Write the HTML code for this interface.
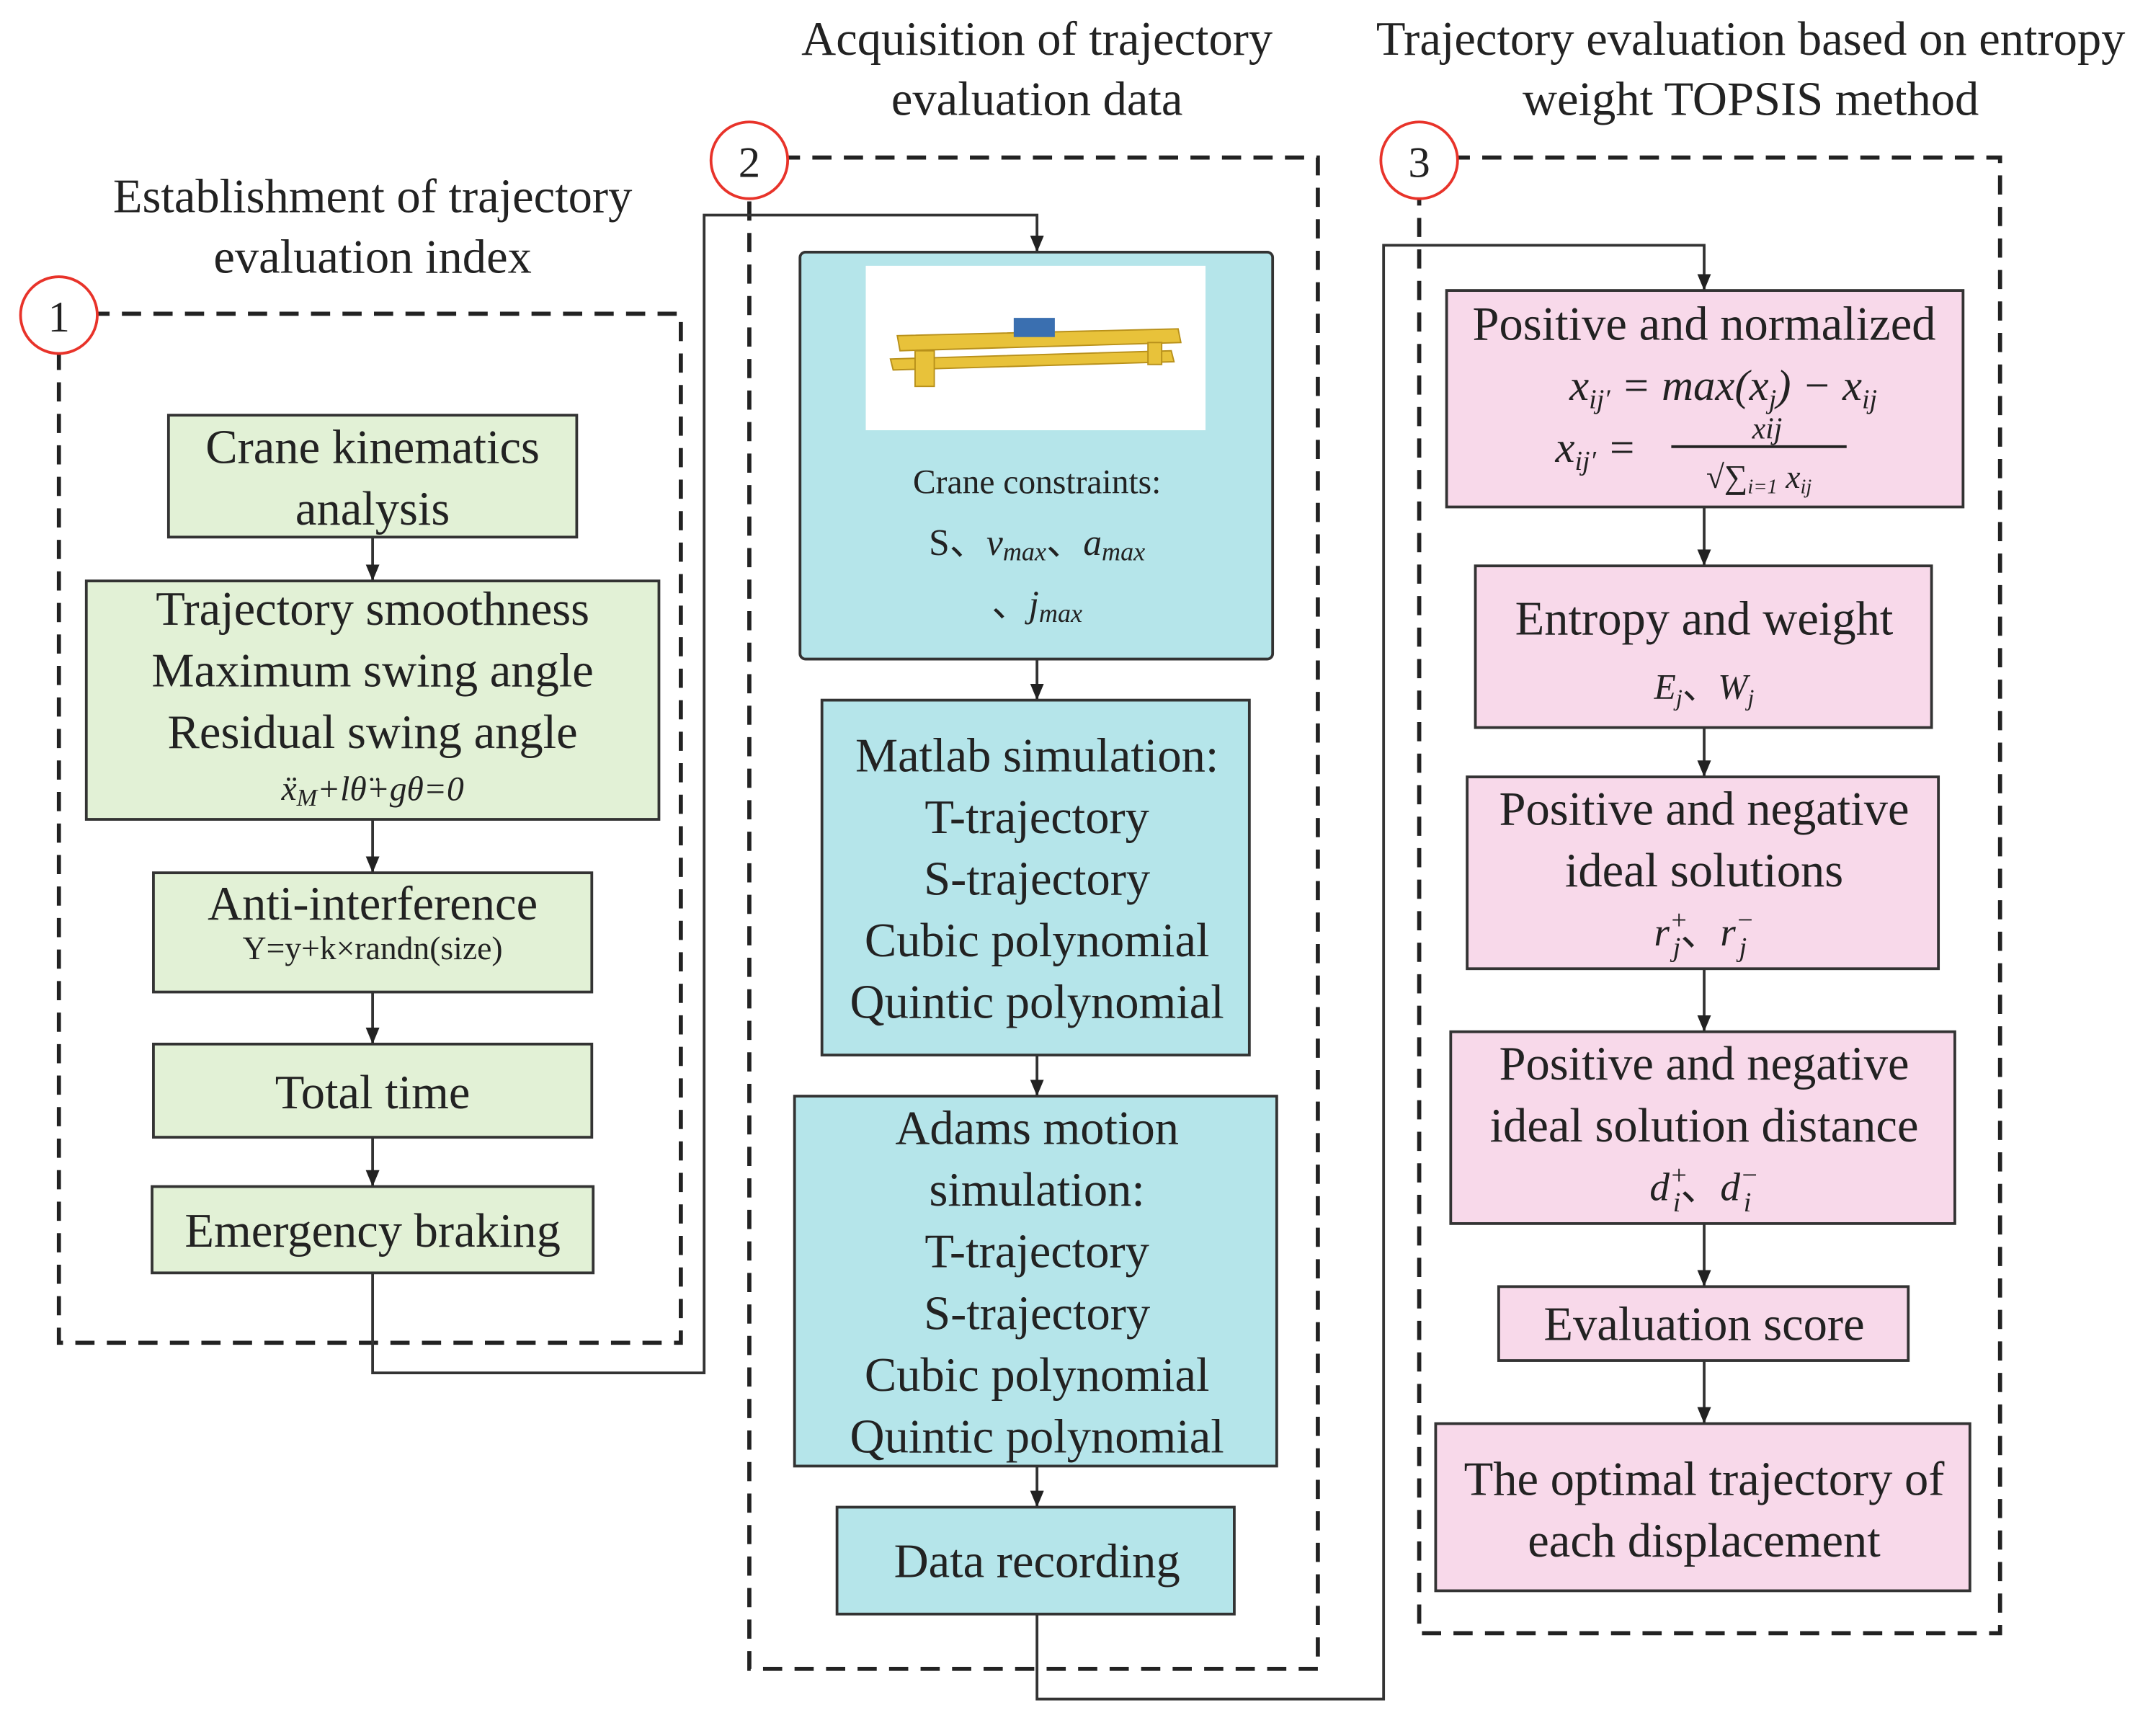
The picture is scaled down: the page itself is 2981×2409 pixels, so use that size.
<!DOCTYPE html>
<html><head><meta charset="utf-8"><style>html,body{margin:0;padding:0;background:#fff}svg{display:block}</style></head><body>
<svg width="2981" height="2409" viewBox="0 0 1568 1267" preserveAspectRatio="none" xmlns="http://www.w3.org/2000/svg" font-family="Liberation Serif, serif" fill="#222">
<defs><marker id="a" markerWidth="12" markerHeight="10" refX="12" refY="5" orient="auto" markerUnits="userSpaceOnUse"><path d="M0,0 L12,5 L0,10 z" fill="#222"/></marker></defs>
<g font-size="35" text-anchor="middle">
<text x="272" y="155">Establishment of trajectory</text><text x="272" y="199">evaluation index</text>
<text x="757" y="40">Acquisition of trajectory</text><text x="757" y="84">evaluation data</text>
<text x="1278" y="40">Trajectory evaluation based on entropy</text><text x="1278" y="84">weight TOPSIS method</text>
</g>
<g fill="none" stroke="#222" stroke-width="3" stroke-dasharray="14,9">
<rect x="43" y="229" width="454" height="751"/><rect x="547" y="115" width="415" height="1103"/><rect x="1036" y="115" width="424" height="1077"/>
</g>
<g fill="#fff" stroke="#e8332a" stroke-width="2"><circle cx="43" cy="230" r="28"/><circle cx="547" cy="117" r="28"/><circle cx="1036" cy="117" r="28"/></g>
<g font-size="32" text-anchor="middle"><text x="43" y="242">1</text><text x="547" y="129">2</text><text x="1036" y="129">3</text></g>
<g stroke="#333" stroke-width="2" fill="none">
<polyline points="272,929 272,1002 514,1002 514,157 757,157 757,184" marker-end="url(#a)"/>
<polyline points="757,1178 757,1240 1010,1240 1010,179 1244,179 1244,212" marker-end="url(#a)"/>
<line x1="272" y1="392" x2="272" y2="424" marker-end="url(#a)"/><line x1="272" y1="598" x2="272" y2="637" marker-end="url(#a)"/>
<line x1="272" y1="724" x2="272" y2="762" marker-end="url(#a)"/><line x1="272" y1="830" x2="272" y2="866" marker-end="url(#a)"/>
<line x1="757" y1="481" x2="757" y2="511" marker-end="url(#a)"/><line x1="757" y1="770" x2="757" y2="800" marker-end="url(#a)"/>
<line x1="757" y1="1070" x2="757" y2="1100" marker-end="url(#a)"/>
<line x1="1244" y1="370" x2="1244" y2="413" marker-end="url(#a)"/><line x1="1244" y1="531" x2="1244" y2="567" marker-end="url(#a)"/>
<line x1="1244" y1="707" x2="1244" y2="753" marker-end="url(#a)"/><line x1="1244" y1="893" x2="1244" y2="939" marker-end="url(#a)"/>
<line x1="1244" y1="993" x2="1244" y2="1039" marker-end="url(#a)"/>
</g>
<g stroke="#333" stroke-width="2" fill="#e2f1d6">
<rect x="123" y="303" width="298" height="89"/><rect x="63" y="424" width="418" height="174"/><rect x="112" y="637" width="320" height="87"/><rect x="112" y="762" width="320" height="68"/><rect x="111" y="866" width="322" height="63"/>
</g>
<g stroke="#333" stroke-width="2" fill="#b5e5ea">
<rect x="584" y="184" width="345" height="297" rx="4"/><rect x="600" y="511" width="312" height="259"/><rect x="580" y="800" width="352" height="270"/><rect x="611" y="1100" width="290" height="78"/>
</g>
<g stroke="#333" stroke-width="2" fill="#f8d9ea">
<rect x="1056" y="212" width="377" height="158"/><rect x="1077" y="413" width="333" height="118"/><rect x="1071" y="567" width="344" height="140"/><rect x="1059" y="753" width="368" height="140"/><rect x="1094" y="939" width="299" height="54"/><rect x="1048" y="1039" width="390" height="122"/>
</g>
<rect x="632" y="194" width="248" height="120" fill="#fff"/>
<g fill="#e8c23a" stroke="#b8901a" stroke-width="1">
<polygon points="655,245 860,240 862,250 657,256"/><polygon points="650,262 855,256 857,264 652,270"/>
<rect x="668" y="256" width="14" height="26"/><rect x="838" y="250" width="10" height="16"/>
</g>
<rect x="740" y="232" width="30" height="14" fill="#3a6fb0"/>
<g font-size="35" text-anchor="middle">
<text x="272" y="338">Crane kinematics</text><text x="272" y="383">analysis</text>
<text x="272" y="456">Trajectory smoothness</text><text x="272" y="501">Maximum swing angle</text><text x="272" y="546">Residual swing angle</text>
<text x="272" y="584" font-size="25" font-style="italic">ẍ<tspan font-size="18" dy="4">M</tspan><tspan dy="-4">+lθ̈+gθ=0</tspan></text>
<text x="272" y="671">Anti-interference</text><text x="272" y="700" font-size="24">Y=y+k×randn(size)</text>
<text x="272" y="809">Total time</text><text x="272" y="910">Emergency braking</text>
<text x="757" y="360" font-size="25">Crane constraints:</text>
<text x="757" y="405" font-size="27">S、<tspan font-style="italic">v</tspan><tspan font-size="19" font-style="italic" dy="4">max</tspan><tspan dy="-4">、</tspan><tspan font-style="italic">a</tspan><tspan font-size="19" font-style="italic" dy="4">max</tspan></text>
<text x="757" y="450" font-size="27">、<tspan font-style="italic">j</tspan><tspan font-size="19" font-style="italic" dy="4">max</tspan></text>
<text x="757" y="563">Matlab simulation:</text><text x="757" y="608">T-trajectory</text><text x="757" y="653">S-trajectory</text><text x="757" y="698">Cubic polynomial</text><text x="757" y="743">Quintic polynomial</text>
<text x="757" y="835">Adams motion</text><text x="757" y="880">simulation:</text><text x="757" y="925">T-trajectory</text><text x="757" y="970">S-trajectory</text><text x="757" y="1015">Cubic polynomial</text><text x="757" y="1060">Quintic polynomial</text>
<text x="757" y="1151">Data recording</text>
<text x="1244" y="248">Positive and normalized</text>
<text x="1258" y="292" font-style="italic" font-size="32">x<tspan font-size="20" dy="6">ij′</tspan><tspan dy="-6"> = max(x</tspan><tspan font-size="20" dy="6">j</tspan><tspan dy="-6">) − x</tspan><tspan font-size="20" dy="6">ij</tspan></text>
<text x="1165" y="337" font-style="italic" font-size="32">x<tspan font-size="20" dy="6">ij′</tspan><tspan dy="-6"> =</tspan></text>
<text x="1290" y="320" font-style="italic" font-size="22">xij</text>
<line x1="1220" y1="326" x2="1348" y2="326" stroke="#222" stroke-width="2"/>
<text x="1284" y="356" font-style="italic" font-size="24">√∑<tspan font-size="15" dy="4">i=1</tspan><tspan dy="-4"> x</tspan><tspan font-size="15" dy="4">ij</tspan></text>
<text x="1244" y="463">Entropy and weight</text>
<text x="1244" y="510" font-style="italic" font-size="26">E<tspan font-size="17" dy="5">j</tspan><tspan dy="-5" font-style="normal">、</tspan>W<tspan font-size="17" dy="5">j</tspan></text>
<text x="1244" y="602">Positive and negative</text><text x="1244" y="647">ideal solutions</text>
<text x="1244" y="690" font-style="italic" font-size="29">r<tspan font-size="20" dy="-12">+</tspan><tspan font-size="20" dx="-11" dy="20">j</tspan><tspan dy="-8" font-style="normal">、</tspan>r<tspan font-size="20" dy="-12">−</tspan><tspan font-size="20" dx="-11" dy="20">j</tspan></text>
<text x="1244" y="788">Positive and negative</text><text x="1244" y="833">ideal solution distance</text>
<text x="1244" y="876" font-style="italic" font-size="29">d<tspan font-size="20" dy="-12">+</tspan><tspan font-size="20" dx="-11" dy="20">i</tspan><tspan dy="-8" font-style="normal">、</tspan>d<tspan font-size="20" dy="-12">−</tspan><tspan font-size="20" dx="-11" dy="20">i</tspan></text>
<text x="1244" y="978">Evaluation score</text>
<text x="1244" y="1091">The optimal trajectory of</text><text x="1244" y="1136">each displacement</text>
</g>
</svg>
</body></html>
